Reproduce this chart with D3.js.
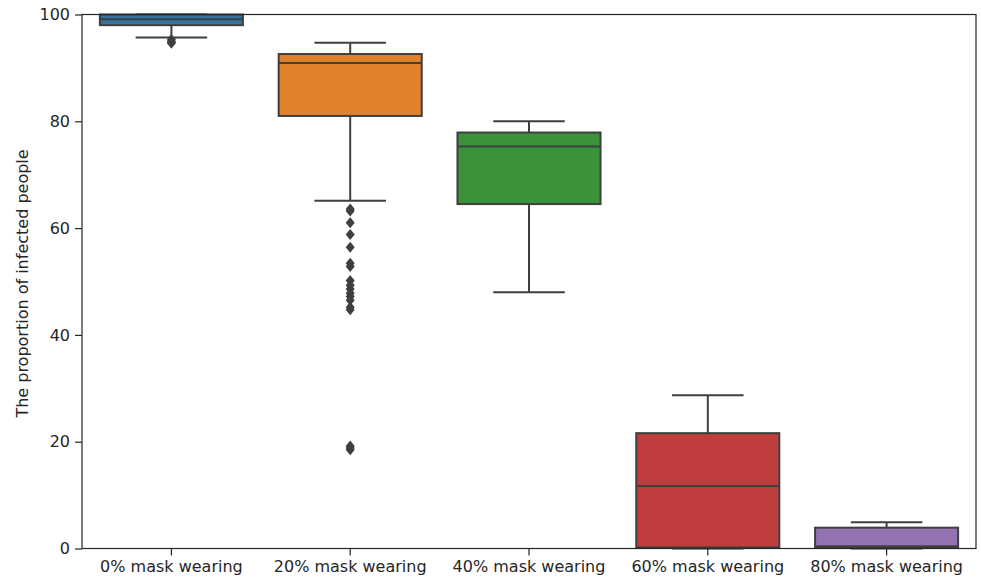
<!DOCTYPE html>
<html>
<head>
<meta charset="utf-8">
<script src="https://cdn.jsdelivr.net/npm/d3@7"></script>
<style>
  html, body { margin: 0; padding: 0; background: #fff; }
  svg text { font-family: "DejaVu Sans", sans-serif; fill: #262626; }
</style>
</head>
<body>
<svg id="chart" width="981" height="578"></svg>
<script>
// Scenario names along the x axis
const categories = ["0% mask wearing", "20% mask wearing", "40% mask wearing", "60% mask wearing", "80% mask wearing"];
// Box statistics per scenario (percent of people infected)
const whiskerLow  = [95.7, 65.1, 48.0, 0.0, 0.0];
const q1          = [98.0, 81.0, 64.5, 0.2, 0.1];
const median      = [99.1, 90.9, 75.3, 11.7, 0.4];
const q3          = [100.0, 92.6, 77.9, 21.6, 3.9];
const whiskerHigh = [100.0, 94.7, 80.0, 28.7, 4.9];
// Outlying runs per scenario
const outliers = [
  [95.3, 95.0, 94.8, 94.6],
  [63.6, 63.2, 61.0, 58.8, 56.4, 53.4, 52.8, 50.2, 49.3, 48.6, 47.8, 47.2, 46.5, 45.2, 44.7, 19.2, 18.8, 18.5],
  [],
  [],
  []
];
const yTicks = [0, 20, 40, 60, 80, 100];
const fills = ["#3274a1", "#e1812c", "#3a923a", "#c03d3e", "#9372b2"];
const edge = "#3f3f3f";

const svg = d3.select("#chart");
const margin = { left: 82, right: 5, top: 14.5, bottom: 29.5 };
const W = 981, H = 578;

const x = d3.scaleBand().domain(categories).range([margin.left, W - margin.right]).paddingInner(0).paddingOuter(0);
const y = d3.scaleLinear().domain([0, 100]).range([H - margin.bottom, margin.top]);

const boxW = x.bandwidth() * 0.8;
const capW = boxW * 0.5;

const g = svg.append("g");

categories.forEach((c, i) => {
  const cx = x(c) + x.bandwidth() / 2;
  const grp = g.append("g");
  // whiskers
  grp.append("line").attr("x1", cx).attr("x2", cx).attr("y1", y(q3[i])).attr("y2", y(whiskerHigh[i]))
    .attr("stroke", edge).attr("stroke-width", 2);
  grp.append("line").attr("x1", cx).attr("x2", cx).attr("y1", y(q1[i])).attr("y2", y(whiskerLow[i]))
    .attr("stroke", edge).attr("stroke-width", 2);
  // caps
  [whiskerHigh[i], whiskerLow[i]].forEach(v => {
    grp.append("line").attr("x1", cx - capW / 2).attr("x2", cx + capW / 2).attr("y1", y(v)).attr("y2", y(v))
      .attr("stroke", edge).attr("stroke-width", 2);
  });
  // box
  grp.append("rect").attr("x", cx - boxW / 2).attr("width", boxW)
    .attr("y", y(q3[i])).attr("height", y(q1[i]) - y(q3[i]))
    .attr("fill", fills[i]).attr("stroke", edge).attr("stroke-width", 2);
  // median
  grp.append("line").attr("x1", cx - boxW / 2).attr("x2", cx + boxW / 2).attr("y1", y(median[i])).attr("y2", y(median[i]))
    .attr("stroke", edge).attr("stroke-width", 2);
  // fliers
  grp.selectAll("path.flier").data(outliers[i]).join("path")
    .attr("class", "flier")
    .attr("d", d => `M${cx},${y(d) - 5.5} L${cx + 4.5},${y(d)} L${cx},${y(d) + 5.5} L${cx - 4.5},${y(d)} Z`)
    .attr("fill", edge);
});

// frame
svg.append("rect").attr("x", margin.left).attr("y", margin.top)
  .attr("width", W - margin.right - margin.left).attr("height", H - margin.bottom - margin.top)
  .attr("fill", "none").attr("stroke", "#262626").attr("stroke-width", 1.2);

// y axis
const yAxis = svg.append("g").attr("transform", `translate(${margin.left},0)`)
  .call(d3.axisLeft(y).tickValues(yTicks).tickSize(7).tickPadding(5).tickFormat(d3.format("d")));
yAxis.select(".domain").remove();
yAxis.selectAll("line").attr("stroke", "#262626").attr("stroke-width", 1.2);
yAxis.selectAll("text").style("font-size", "16px").attr("fill", "#262626");

// x axis
const xAxis = svg.append("g").attr("transform", `translate(0,${H - margin.bottom})`)
  .call(d3.axisBottom(x).tickSize(7).tickPadding(5));
xAxis.select(".domain").remove();
xAxis.selectAll("line").attr("stroke", "#262626").attr("stroke-width", 1.2);
xAxis.selectAll("text").style("font-size", "16px").attr("fill", "#262626");

// y label
svg.append("text")
  .attr("transform", `translate(28,${(margin.top + H - margin.bottom) / 2 + 2}) rotate(-90)`)
  .attr("text-anchor", "middle")
  .style("font-size", "16px")
  .text("The proportion of infected people");
</script>
</body>
</html>
